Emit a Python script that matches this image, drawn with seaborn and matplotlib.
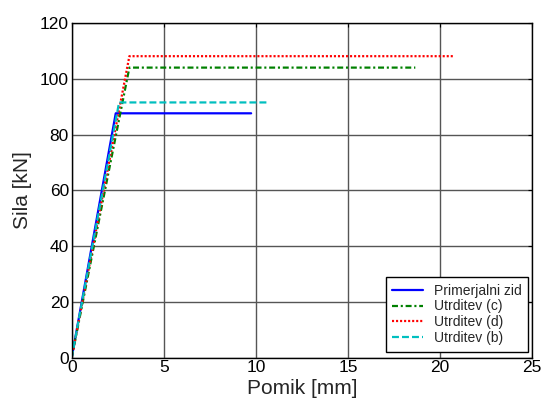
import matplotlib
matplotlib.use("Agg")
import matplotlib.pyplot as plt
import seaborn as sns
import pandas as pd

# ---- data ----
labels = ["Primerjalni zid", "Utrditev (c)", "Utrditev (d)", "Utrditev (b)"]
x_primerjalni = [0, 2.39, 9.74]
y_primerjalni = [0, 87.7, 87.7]
x_c = [0, 3.13, 18.65]
y_c = [0, 104.1, 104.1]
x_d = [0, 3.13, 20.7]
y_d = [0, 108.2, 108.2]
x_b = [0, 2.57, 10.73]
y_b = [0, 91.6, 91.6]
xticks = [0, 5, 10, 15, 20, 25]
yticks = [0, 20, 40, 60, 80, 100, 120]

sns.set_style("white")
plt.rcParams['font.family'] = ['Liberation Sans', 'DejaVu Sans']
plt.rcParams['lines.scale_dashes'] = False

fig = plt.figure(figsize=(5.42, 4.01), dpi=100)
ax = fig.add_axes([0.1323, 0.108, 0.8498, 0.8339])

series = [
    (x_primerjalni, y_primerjalni, "#0000ff", "-"),
    (x_c, y_c, "#008000", (0, (4.3, 2.0, 1.5, 2.0))),
    (x_d, y_d, "#ff0000", (0, (1.5, 1.4))),
    (x_b, y_b, "#00bfbf", (0, (5.0, 2.2))),
]
for (xs, ys, col, ls), lab in zip(series, labels):
    df = pd.DataFrame({"x": xs, "y": ys})
    sns.lineplot(data=df, x="x", y="y", ax=ax, color=col, linestyle=ls,
                 linewidth=1.6, label=lab, sort=False, estimator=None)

ax.set_xlim(0, 25)
ax.set_ylim(0, 120)
ax.set_xticks(xticks)
ax.set_yticks(yticks)
ax.grid(True, color="#555555", linewidth=1.0)
ax.set_axisbelow(True)
for s in ax.spines.values():
    s.set_color("black")
    s.set_linewidth(1.0)
ax.tick_params(direction="in", length=3, top=True, right=True,
               labelsize=12.5, colors="black", pad=2)
ax.tick_params(axis="x", pad=1.5)
ax.set_xlabel("Pomik [mm]", fontsize=15, labelpad=3)
ax.set_ylabel("Sila [kN]", fontsize=15, labelpad=6)

leg = ax.legend(loc="lower right", bbox_to_anchor=(0.9913, 0.0179),
                borderaxespad=0, fontsize=10, frameon=True, fancybox=False,
                handlelength=2.2, handletextpad=0.76, borderpad=0.5,
                labelspacing=0.12)
leg.get_frame().set_edgecolor("black")
leg.get_frame().set_linewidth(1.0)
leg.get_frame().set_alpha(1)

fig.savefig("out.png", dpi=100)
